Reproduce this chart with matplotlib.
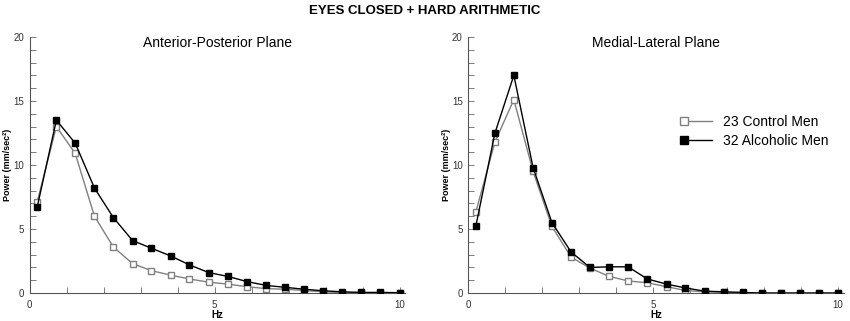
import numpy as np
import matplotlib.pyplot as plt
from matplotlib.lines import Line2D
from matplotlib.legend_handler import HandlerLine2D
from matplotlib.ticker import MultipleLocator

plt.rcParams['font.family'] = ['Liberation Sans', 'DejaVu Sans']

hz = [0.2, 0.72, 1.23, 1.75, 2.26, 2.78, 3.29, 3.81, 4.32, 4.84,
      5.36, 5.87, 6.39, 6.9, 7.42, 7.93, 8.45, 8.97, 9.48, 10.0]

# anterior-posterior plane
ap_control = [7.1, 13.0, 10.9, 6.0, 3.6, 2.3, 1.75, 1.4, 1.1, 0.85,
              0.7, 0.5, 0.35, 0.3, 0.2, 0.1, 0.03, 0.0, 0.0, 0.0]
ap_alcoholic = [6.7, 13.5, 11.7, 8.2, 5.9, 4.1, 3.5, 2.9, 2.2, 1.6,
                1.3, 0.9, 0.6, 0.45, 0.3, 0.18, 0.1, 0.05, 0.05, 0.03]

# medial-lateral plane
ml_control = [6.3, 11.8, 15.1, 9.5, 5.2, 2.8, 1.95, 1.3, 0.95, 0.8,
              0.5, 0.2, 0.1, 0.05, 0.0, 0.0, 0.0, 0.0, 0.0, 0.0]
ml_alcoholic = [5.2, 12.5, 17.0, 9.8, 5.5, 3.2, 2.0, 2.05, 2.05, 1.1,
                0.7, 0.4, 0.15, 0.1, 0.05, 0.0, 0.0, 0.0, 0.0, 0.0]

panels = [("Anterior-Posterior Plane", ap_control, ap_alcoholic),
          ("Medial-Lateral Plane", ml_control, ml_alcoholic)]


# legend line with the marker only on its left end
class LeftMarker(HandlerLine2D):
    def create_artists(self, *args, **kwargs):
        arts = super().create_artists(*args, **kwargs)
        for a in arts:
            a.set_markevery([0])
        return arts


fig = plt.figure(figsize=(8.5, 3.21), dpi=100)
fig.text(0.5, 0.965, "EYES CLOSED + HARD ARITHMETIC", ha='center', va='center',
         fontsize=9.5, fontweight='bold')

boxes = [[0.035, 0.087, 0.442, 0.798], [0.551, 0.087, 0.442, 0.798]]

for i, (title, ctrl, alc) in enumerate(panels):
    ax = fig.add_axes(boxes[i])
    ax.plot(hz, ctrl, color='#808080', lw=1, marker='s', ms=4.5,
            mfc='white', mec='#808080', mew=1, zorder=2)
    ax.plot(hz, alc, color='black', lw=1, marker='s', ms=4.8,
            mfc='black', mec='black', zorder=3)
    ax.set_xlim(0, 10.16)
    ax.set_ylim(0, 20)
    ax.xaxis.set_major_locator(MultipleLocator(5))
    ax.xaxis.set_minor_locator(MultipleLocator(1))
    ax.yaxis.set_major_locator(MultipleLocator(5))
    ax.yaxis.set_minor_locator(MultipleLocator(1))
    ax.tick_params(which='both', direction='in', colors='#666666',
                   labelcolor='#333333', labelsize=7, width=0.6, length=4)
    ax.tick_params(axis='x', pad=5)
    ax.tick_params(axis='y', pad=4)
    for s in ['top', 'right']:
        ax.spines[s].set_visible(False)
    for s in ['left', 'bottom']:
        ax.spines[s].set_color('#555555')
        ax.spines[s].set_linewidth(0.8)
    ax.text(0.5, 0.975, title, transform=ax.transAxes, ha='center',
            va='center', fontsize=10)
    ax.set_xlabel("Hz", fontsize=7, fontweight='bold', labelpad=0)
    ax.set_ylabel("Power (mm/sec²)", fontsize=6.5, fontweight='bold', labelpad=1)

    if i == 1:
        handles = [Line2D([0], [0], color='#808080', lw=1, marker='s', ms=6,
                          mfc='white', mec='#808080'),
                   Line2D([0], [0], color='black', lw=1, marker='s', ms=6,
                          mfc='black', mec='black')]
        ax.legend(handles, ["23 Control Men", "32 Alcoholic Men"],
                  loc='upper left', bbox_to_anchor=(0.53, 0.745), frameon=False,
                  fontsize=10, numpoints=2, handlelength=2.6,
                  handletextpad=0.5, labelspacing=0.4,
                  handler_map={Line2D: LeftMarker()})

fig.savefig("out.png", dpi=100)
